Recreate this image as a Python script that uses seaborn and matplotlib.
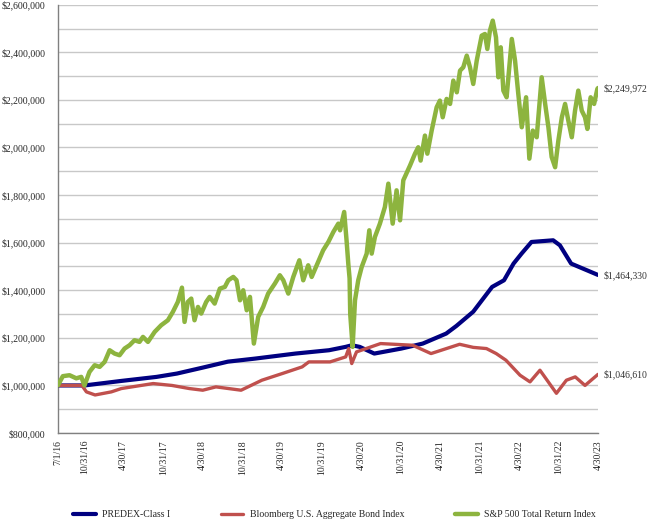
import matplotlib
matplotlib.use("Agg")
import matplotlib.pyplot as plt
import seaborn as sns
import pandas as pd
from matplotlib.ticker import FuncFormatter, MultipleLocator

# ---- data ----
sp_dates = ["2016-07-01","2016-07-24","2016-08-24","2016-09-24","2016-10-17","2016-11-01","2016-11-24",
            "2016-12-18","2017-01-10","2017-02-02","2017-02-25","2017-03-20","2017-04-12","2017-05-05",
            "2017-05-28","2017-06-20","2017-07-13","2017-07-29","2017-08-21","2017-09-21","2017-10-21",
            "2017-11-21","2017-12-14","2018-01-06","2018-01-25","2018-02-06","2018-02-21","2018-03-09",
            "2018-03-24","2018-04-09","2018-04-24","2018-05-17","2018-06-02","2018-06-25","2018-07-19",
            "2018-08-11","2018-08-27","2018-09-19","2018-10-04","2018-10-20","2018-11-04","2018-11-20",
            "2018-12-05","2018-12-23","2019-01-12","2019-02-04","2019-02-27","2019-03-30","2019-04-22",
            "2019-05-08","2019-05-31","2019-06-23","2019-07-21","2019-08-08","2019-08-31","2019-09-16",
            "2019-10-09","2019-11-08","2019-12-02","2019-12-25","2020-01-17","2020-01-25","2020-02-13",
            "2020-02-24","2020-03-03","2020-03-09","2020-03-12","2020-03-23","2020-04-03","2020-04-18",
            "2020-05-04","2020-05-27","2020-06-08","2020-06-19","2020-07-04","2020-07-27","2020-08-19",
            "2020-09-04","2020-09-24","2020-10-12","2020-10-28","2020-11-12","2020-12-13","2021-01-05",
            "2021-01-20","2021-01-31","2021-02-20","2021-03-03","2021-03-23","2021-04-15","2021-04-30",
            "2021-05-13","2021-05-31","2021-06-16","2021-07-01","2021-07-17","2021-08-01","2021-08-16",
            "2021-09-01","2021-09-16","2021-10-01","2021-10-17","2021-11-09","2021-11-24","2021-12-05",
            "2021-12-17","2021-12-30","2022-01-14","2022-01-25","2022-02-05","2022-02-17","2022-03-04",
            "2022-03-28","2022-04-12","2022-04-27","2022-05-13","2022-06-02","2022-06-17","2022-07-03",
            "2022-07-21","2022-08-13","2022-08-29","2022-09-13","2022-09-28","2022-10-14","2022-10-29",
            "2022-11-14","2022-11-29","2022-12-14","2022-12-30","2023-01-14","2023-01-29","2023-02-14",
            "2023-03-01","2023-03-12","2023-03-27","2023-04-12","2023-04-27","2023-04-30"]
sp_values = [1000000,1039000,1043000,1030000,1036000,1000000,1057000,
             1085000,1078000,1099000,1148000,1134000,1127000,1155000,
             1169000,1190000,1183000,1204000,1183000,1225000,1253000,
             1274000,1309000,1351000,1411000,1267000,1351000,1365000,
             1274000,1330000,1302000,1351000,1372000,1344000,1407000,
             1414000,1442000,1456000,1442000,1358000,1400000,1316000,
             1372000,1176000,1288000,1330000,1386000,1428000,1463000,
             1442000,1386000,1456000,1526000,1442000,1505000,1456000,
             1505000,1568000,1603000,1645000,1680000,1652000,1729000,
             1610000,1512000,1450000,1300000,1162000,1358000,1442000,
             1498000,1554000,1652000,1554000,1624000,1680000,1750000,
             1848000,1680000,1820000,1694000,1862000,1924000,1974000,
             2001000,1945000,2050000,1974000,2071000,2169000,2197000,
             2127000,2204000,2183000,2281000,2232000,2323000,2337000,
             2386000,2337000,2267000,2365000,2470000,2477000,2414000,
             2491000,2533000,2463000,2295000,2421000,2239000,2211000,
             2456000,2365000,2225000,2085000,2211000,1953000,2071000,
             2043000,2295000,2183000,2085000,1960000,1917000,2029000,
             2127000,2183000,2113000,2043000,2155000,2239000,2155000,
             2127000,2078000,2211000,2183000,2246000,2249972]

predex_dates = ["2016-07-01","2016-11-01","2017-04-20","2017-09-30","2018-01-02","2018-05-01","2018-08-25",
                "2018-12-30","2019-07-03","2019-12-05","2020-02-19","2020-03-20","2020-04-25","2020-07-01",
                "2020-11-03","2021-02-10","2021-05-29","2021-07-15","2021-10-01","2021-12-27","2022-02-20",
                "2022-04-05","2022-05-12","2022-06-27","2022-10-05","2022-11-05","2022-12-27","2023-04-30"]
predex_values = [1000000,1000000,1019000,1036000,1050000,1075000,1100000,
                 1113000,1134000,1148000,1162000,1169000,1162000,1134000,
                 1155000,1176000,1218000,1250000,1310000,1414000,1442000,
                 1512000,1554000,1603000,1610000,1589000,1512000,1464330]

bond_dates = ["2016-07-01","2016-10-20","2016-11-10","2016-12-20","2017-03-05","2017-04-20","2017-09-14",
              "2017-12-10","2018-02-28","2018-05-01","2018-07-01","2018-10-25","2019-01-29","2019-05-03",
              "2019-08-03","2019-09-03","2019-12-10","2020-02-20","2020-03-05","2020-03-19","2020-04-10",
              "2020-07-30","2020-12-25","2021-03-20","2021-07-30","2021-10-01","2021-12-01","2022-01-15",
              "2022-03-01","2022-05-05","2022-06-20","2022-08-05","2022-10-20","2022-12-05","2023-01-15",
              "2023-03-01","2023-04-30"]
bond_values = [1000000,1000000,973000,960000,973000,987000,1008000,
               1000000,987000,980000,994000,980000,1022000,1050000,
               1078000,1099000,1099000,1120000,1155000,1092000,1141000,
               1176000,1169000,1134000,1173000,1160000,1155000,1134000,
               1106000,1043000,1015000,1064000,967000,1022000,1036000,
               1000000,1046610]

series_names = ["PREDEX-Class I", "Bloomberg U.S. Aggregate Bond Index", "S&P 500 Total Return Index"]
series_colors = ["#000080", "#C0504D", "#8DB43F"]
end_labels = ["$1,464,330", "$1,046,610", "$2,249,972"]

tick_dates = ["2016-07-01","2016-10-31","2017-04-30","2017-10-31","2018-04-30","2018-10-31","2019-04-30",
              "2019-10-31","2020-04-30","2020-10-31","2021-04-30","2021-10-31","2022-04-30","2022-10-31",
              "2023-04-30"]
tick_labels = ["7/1/16","10/31/16","4/30/17","10/31/17","4/30/18","10/31/18","4/30/19",
               "10/31/19","4/30/20","10/31/20","4/30/21","10/31/21","4/30/22","10/31/22","4/30/23"]

frames = []
for name, d, v in zip(series_names, [predex_dates, bond_dates, sp_dates],
                      [predex_values, bond_values, sp_values]):
    frames.append(pd.DataFrame({"date": pd.to_datetime(d), "value": v, "series": name}))
df = pd.concat(frames, ignore_index=True)

sns.set_style("white")
plt.rcParams["font.family"] = ["Liberation Serif", "DejaVu Serif"]

fig = plt.figure(figsize=(6.5, 5.23), dpi=100)
ax = fig.add_axes([0.089, 0.172, 0.831, 0.819])

widths = {"PREDEX-Class I": 3.0, "Bloomberg U.S. Aggregate Bond Index": 2.4,
          "S&P 500 Total Return Index": 3.2}
for name, color in zip(series_names, series_colors):
    sub = df[df["series"] == name]
    sns.lineplot(data=sub, x="date", y="value", ax=ax, color=color,
                 linewidth=widths[name], label=name, zorder=3)

ax.set_xlim(pd.Timestamp("2016-07-01"), pd.Timestamp("2023-04-30"))
ax.set_ylim(800000, 2600000)
ax.yaxis.set_major_locator(MultipleLocator(200000))
ax.yaxis.set_minor_locator(MultipleLocator(100000))
ax.yaxis.set_major_formatter(FuncFormatter(lambda v, p: f"${v:,.0f}"))
ax.grid(True, which="both", axis="y", color="#C8C8C8", linewidth=1.0, zorder=0)
ax.grid(False, axis="x")
ax.set_xticks(pd.to_datetime(tick_dates))
ax.set_xticklabels(tick_labels, rotation=90, fontsize=7)
ax.tick_params(axis="y", labelsize=7, length=0, pad=9)
ax.tick_params(axis="x", length=0, pad=5)
ax.set_xlabel("")
ax.set_ylabel("")
for s in ["top", "right"]:
    ax.spines[s].set_visible(False)
for s in ["left", "bottom"]:
    ax.spines[s].set_color("#808080")
    ax.spines[s].set_linewidth(1.0)

# end labels
last_vals = [predex_values[-1], bond_values[-1], sp_values[-1]]
for lab, v in zip(end_labels, last_vals):
    ax.annotate(lab, xy=(1.0, v), xycoords=("axes fraction", "data"),
                xytext=(4, 0), textcoords="offset points", va="center", ha="left",
                fontsize=7, color="#333333")

handles, labels = ax.get_legend_handles_labels()
ax.get_legend().remove()
fig.legend(handles, labels, loc="center", bbox_to_anchor=(0.515, 0.016), ncol=3,
           frameon=False, fontsize=7, handlelength=2.3, columnspacing=5.2,
           handletextpad=0.7)

fig.savefig("out.png", dpi=100)
